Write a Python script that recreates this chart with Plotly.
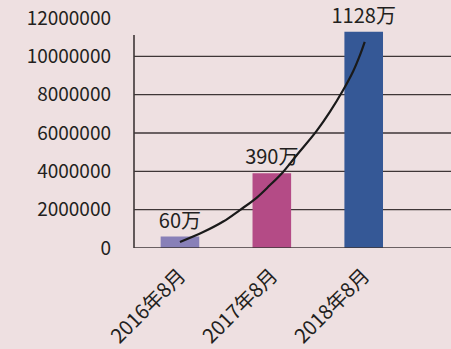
import plotly.graph_objects as go

categories = ["2016年8月", "2017年8月", "2018年8月"]
values = [600000, 3900000, 11280000]
bar_labels = ["60万", "390万", "1128万"]
bar_colors = ["#8880B8", "#B44B86", "#355896"]
y_ticks = [0, 2000000, 4000000, 6000000, 8000000, 10000000, 12000000]
# hand-drawn trend curve (x in category units)
trend_x = [0.0, 0.253, 0.471, 0.652, 0.834, 0.978, 1.123, 1.268, 1.486, 1.630, 1.775, 1.884, 1.957, 2.011]
trend_y = [310000, 830000, 1380000, 1980000, 2620000, 3270000, 3970000, 4830000, 6100000,
           7090000, 8230000, 9210000, 10040000, 10760000]

FONT = "Noto Sans CJK SC, Noto Sans, sans-serif"
TXT = "#231F20"
LINE = "#3E3637"

xs = list(range(len(categories)))

fig = go.Figure()
fig.add_trace(go.Bar(
    x=xs, y=values, width=0.42,
    marker=dict(color=bar_colors, line=dict(width=0)),
    text=bar_labels, textposition="outside", cliponaxis=False,
    constraintext="none",
    textfont=dict(family=FONT, size=20, color=TXT),
    showlegend=False,
))
fig.add_trace(go.Scatter(
    x=trend_x, y=trend_y, mode="lines",
    line=dict(color="#1A1A1A", width=2.2, shape="spline", smoothing=1),
    showlegend=False, hoverinfo="skip",
))

shapes = []
for v in y_ticks[1:-1]:
    shapes.append(dict(type="line", xref="paper", yref="y", x0=0, x1=1, y0=v, y1=v,
                       line=dict(color=LINE, width=1.4), layer="below"))
shapes.append(dict(type="line", xref="paper", yref="y", x0=0, x1=1, y0=0, y1=0,
                   line=dict(color=LINE, width=1.6), layer="above"))
shapes.append(dict(type="line", xref="paper", yref="y", x0=0, x1=0, y0=0, y1=max(values) * 0.985,
                   line=dict(color=LINE, width=1.6), layer="above"))

fig.update_layout(
    width=451, height=349,
    margin=dict(l=134, r=0, t=18, b=99),
    paper_bgcolor="#EEE0E1", plot_bgcolor="#EEE0E1",
    font=dict(family=FONT, color=TXT),
    shapes=shapes,
    xaxis=dict(range=[-0.5, 2.95], tickvals=xs, ticktext=categories, tickangle=-45,
               showgrid=False, zeroline=False, showline=False, ticks="",
               ticklabelstandoff=11,
               tickfont=dict(family=FONT, size=20, color=TXT), fixedrange=True),
    yaxis=dict(range=[0, 12000000], tickvals=y_ticks, ticktext=[str(v) for v in y_ticks],
               showgrid=False, zeroline=False, showline=False, ticks="",
               ticklabelstandoff=22,
               tickfont=dict(family=FONT, size=19, color=TXT), fixedrange=True),
)

fig.write_html("out.html")
